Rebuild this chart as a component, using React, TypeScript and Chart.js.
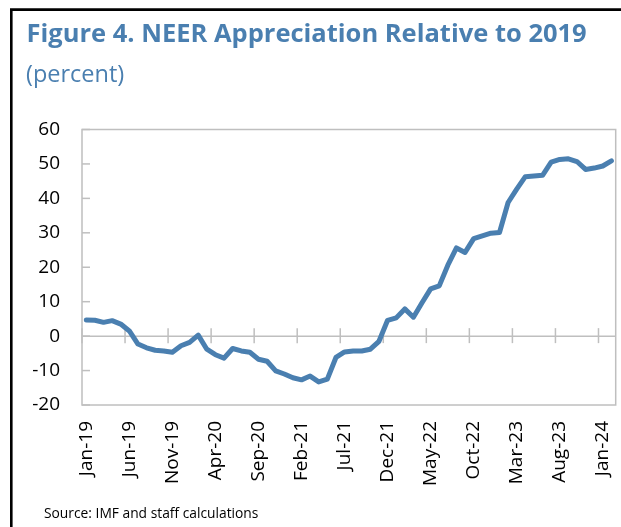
import React, { useEffect, useRef } from "react";
import { Chart, registerables } from "chart.js";

Chart.register(...registerables);

const months: string[] = [
  "Jan-19", "Feb-19", "Mar-19", "Apr-19", "May-19", "Jun-19", "Jul-19", "Aug-19", "Sep-19", "Oct-19", "Nov-19", "Dec-19",
  "Jan-20", "Feb-20", "Mar-20", "Apr-20", "May-20", "Jun-20", "Jul-20", "Aug-20", "Sep-20", "Oct-20", "Nov-20", "Dec-20",
  "Jan-21", "Feb-21", "Mar-21", "Apr-21", "May-21", "Jun-21", "Jul-21", "Aug-21", "Sep-21", "Oct-21", "Nov-21", "Dec-21",
  "Jan-22", "Feb-22", "Mar-22", "Apr-22", "May-22", "Jun-22", "Jul-22", "Aug-22", "Sep-22", "Oct-22", "Nov-22", "Dec-22",
  "Jan-23", "Feb-23", "Mar-23", "Apr-23", "May-23", "Jun-23", "Jul-23", "Aug-23", "Sep-23", "Oct-23", "Nov-23", "Dec-23",
  "Jan-24", "Feb-24",
];

const neer: number[] = [
  4.7, 4.6, 4.0, 4.5, 3.5, 1.5, -2.3, -3.4, -4.1, -4.3, -4.7, -2.8,
  -1.8, 0.3, -3.8, -5.4, -6.4, -3.6, -4.3, -4.7, -6.7, -7.3, -10.1, -11.0,
  -12.1, -12.7, -11.6, -13.3, -12.5, -6.2, -4.6, -4.3, -4.3, -3.8, -1.5, 4.6,
  5.3, 7.9, 5.5, 9.7, 13.7, 14.6, 20.6, 25.6, 24.3, 28.3, 29.1, 29.9,
  30.1, 38.8, 42.7, 46.3, 46.5, 46.7, 50.5, 51.3, 51.5, 50.7, 48.4, 48.8,
  49.4, 50.9,
];

const yTicks: number[] = [-20, -10, 0, 10, 20, 30, 40, 50, 60];
const labelEvery = 5;

const titleText = "Figure 4. NEER Appreciation Relative to 2019";
const subtitleText = "(percent)";
const sourceText = "Source: IMF and staff calculations";

const BLUE = "#4a7fb0";
const GRAY = "#bfbfbf";
const FONT = '"Open Sans", "DejaVu Sans", sans-serif';

const framePlugin = {
  id: "framePlugin",
  beforeDatasetsDraw(chart: any) {
    const { ctx, chartArea, scales } = chart;
    const x = scales.x;
    const y = scales.y;
    ctx.save();
    ctx.strokeStyle = GRAY;
    ctx.lineWidth = 1.5;
    ctx.strokeRect(chartArea.left, chartArea.top, chartArea.right - chartArea.left, chartArea.bottom - chartArea.top);
    // y tick marks (inside)
    yTicks.forEach((v) => {
      const py = y.getPixelForValue(v);
      ctx.beginPath();
      ctx.moveTo(chartArea.left, py);
      ctx.lineTo(chartArea.left + 8, py);
      ctx.stroke();
    });
    // horizontal axis at zero
    const y0 = y.getPixelForValue(0);
    ctx.beginPath();
    ctx.moveTo(chartArea.left, y0);
    ctx.lineTo(chartArea.right, y0);
    ctx.stroke();
    // category tick marks crossing zero line, between categories
    const half = (x.getPixelForValue(1) - x.getPixelForValue(0)) / 2;
    for (let i = 0; i < months.length; i += labelEvery) {
      const px = x.getPixelForValue(i) - half;
      ctx.beginPath();
      ctx.moveTo(px, y0 - 8);
      ctx.lineTo(px, y0 + 7);
      ctx.stroke();
    }
    ctx.restore();
  },
  afterDraw(chart: any) {
    const { ctx } = chart;
    ctx.save();
    ctx.fillStyle = BLUE;
    ctx.textAlign = "left";
    ctx.textBaseline = "alphabetic";
    ctx.font = `bold 25.5px ${FONT}`;
    ctx.fillText(titleText, 26.5, 41.7);
    ctx.font = `23.5px ${FONT}`;
    ctx.fillText(subtitleText, 26, 81.7);
    ctx.fillStyle = "#000";
    ctx.font = `13.8px ${FONT}`;
    ctx.fillText(sourceText, 44, 517.7);
    // black frame
    ctx.strokeStyle = "#000";
    ctx.lineWidth = 2.6;
    ctx.beginPath();
    ctx.moveTo(11.3, 527);
    ctx.lineTo(11.3, 9.6);
    ctx.lineTo(621, 9.6);
    ctx.stroke();
    ctx.restore();
  },
};

export default function App() {
  const ref = useRef<HTMLCanvasElement | null>(null);
  useEffect(() => {
    if (!ref.current) return;
    const chart = new Chart(ref.current, {
      type: "line",
      data: {
        labels: months,
        datasets: [
          {
            data: neer,
            borderColor: BLUE,
            borderWidth: 5,
            pointRadius: 0,
            tension: 0,
            fill: false,
            borderJoinStyle: "round",
            borderCapStyle: "round",
          },
        ],
      },
      options: {
        animation: false,
        responsive: false,
        devicePixelRatio: 1,
        layout: { padding: { left: 0, top: 129.5, right: 5.3, bottom: 0 } },
        plugins: { legend: { display: false }, tooltip: { enabled: false }, title: { display: false } },
        scales: {
          x: {
            type: "category",
            offset: true,
            grid: { display: false, drawTicks: false },
            border: { display: false },
            ticks: {
              autoSkip: false,
              maxRotation: 90,
              minRotation: 90,
              padding: 16,
              color: "#000",
              font: { family: FONT, size: 19 },
              callback: (_v: any, i: number) => (i % labelEvery === 0 ? months[i] : ""),
            },
            afterFit: (s: any) => {
              s.height = 122;
              s.paddingLeft = 0;
              s.paddingRight = 0;
            },
          },
          y: {
            min: -20,
            max: 60,
            grid: { display: false, drawTicks: false },
            border: { display: false },
            ticks: {
              stepSize: 10,
              padding: 22,
              color: "#000",
              font: { family: FONT, size: 19 },
            },
            afterFit: (s: any) => {
              s.width = 82;
              s.paddingTop = 0;
              s.paddingBottom = 0;
            },
          },
        },
      },
      plugins: [framePlugin],
    });
    return () => chart.destroy();
  }, []);
  return (
    <canvas
      ref={ref}
      width={621}
      height={527}
      style={{ position: "absolute", left: 0, top: 0, width: 621, height: 527 }}
    />
  );
}
